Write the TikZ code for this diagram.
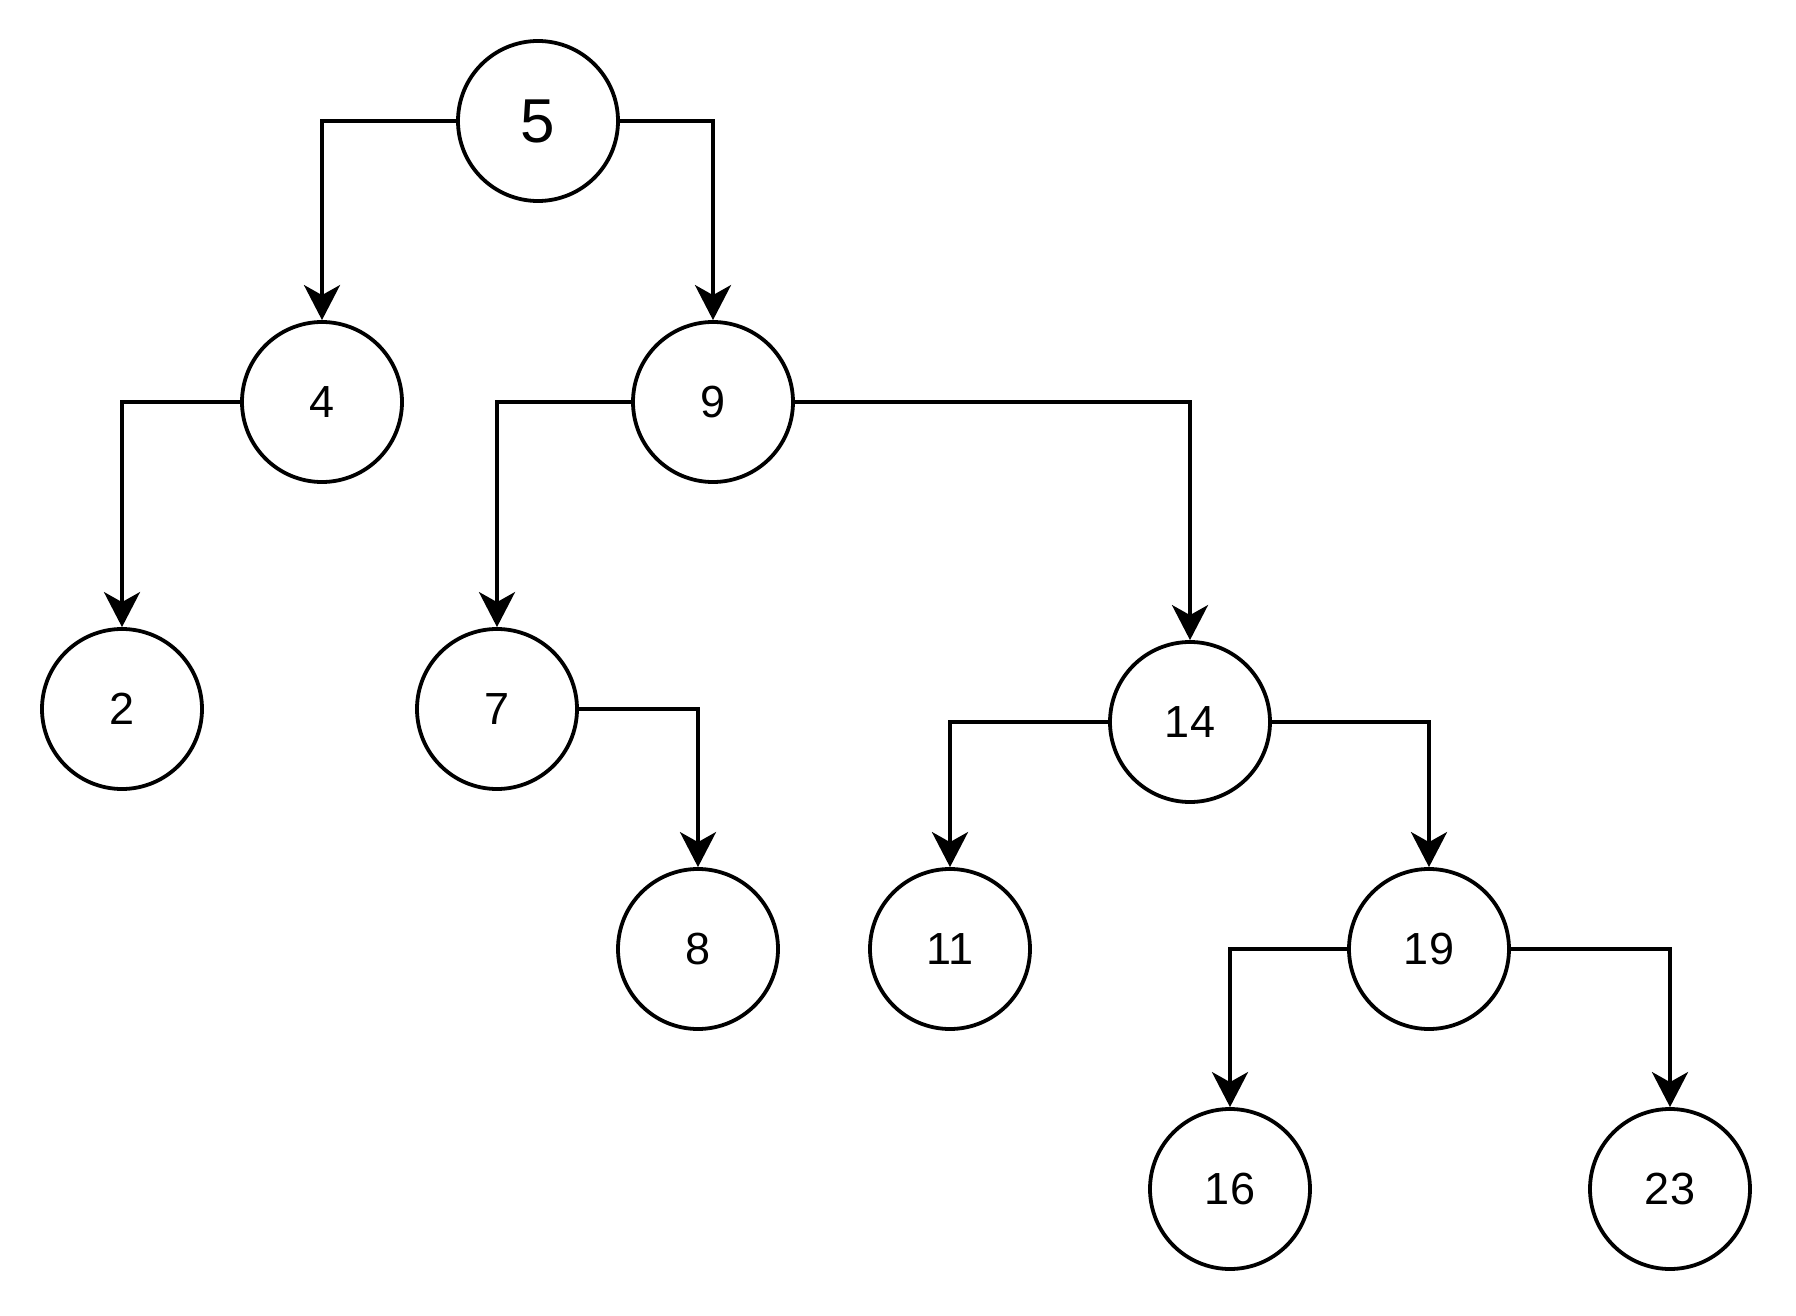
\documentclass[tikz,border=0pt]{standalone}
\usepackage{fontspec}
\setmainfont{Liberation Sans}
\usetikzlibrary{arrows.meta}
\begin{document}
\begin{tikzpicture}[x=0.5pt,y=-0.5pt,
  treenode/.style={circle,draw=black,line width=1.9pt,minimum size=80pt,inner sep=0pt,
    font=\fontsize{22.5}{26}\selectfont},
  rootnode/.style={treenode,font=\fontsize{31}{36}\selectfont},
  edge/.style={draw=black,line width=1.9pt,
    -{Stealth[length=17.5pt,width=18pt,inset=5pt]}}]
  \useasboundingbox (0,0) rectangle (1796,1316);
  % tree nodes
  \node[rootnode] (n5)  at (538,121)  {5};
  \node[treenode] (n4)  at (322,402)  {4};
  \node[treenode] (n9)  at (713,402)  {9};
  \node[treenode] (n2)  at (122,709)  {2};
  \node[treenode] (n7)  at (497,709)  {7};
  \node[treenode] (n14) at (1190,722) {14};
  \node[treenode] (n8)  at (698,949)  {8};
  \node[treenode] (n11) at (950,949)  {11};
  \node[treenode] (n19) at (1429,949) {19};
  \node[treenode] (n16) at (1230,1189) {16};
  \node[treenode] (n23) at (1670,1189) {23};
  % orthogonal parent-child links
  \draw[edge] (n5.west)  -| (n4.north);
  \draw[edge] (n5.east)  -| (n9.north);
  \draw[edge] (n4.west)  -| (n2.north);
  \draw[edge] (n9.west)  -| (n7.north);
  \draw[edge] (n9.east)  -| (n14.north);
  \draw[edge] (n7.east)  -| (n8.north);
  \draw[edge] (n14.west) -| (n11.north);
  \draw[edge] (n14.east) -| (n19.north);
  \draw[edge] (n19.west) -| (n16.north);
  \draw[edge] (n19.east) -| (n23.north);
\end{tikzpicture}
\end{document}
